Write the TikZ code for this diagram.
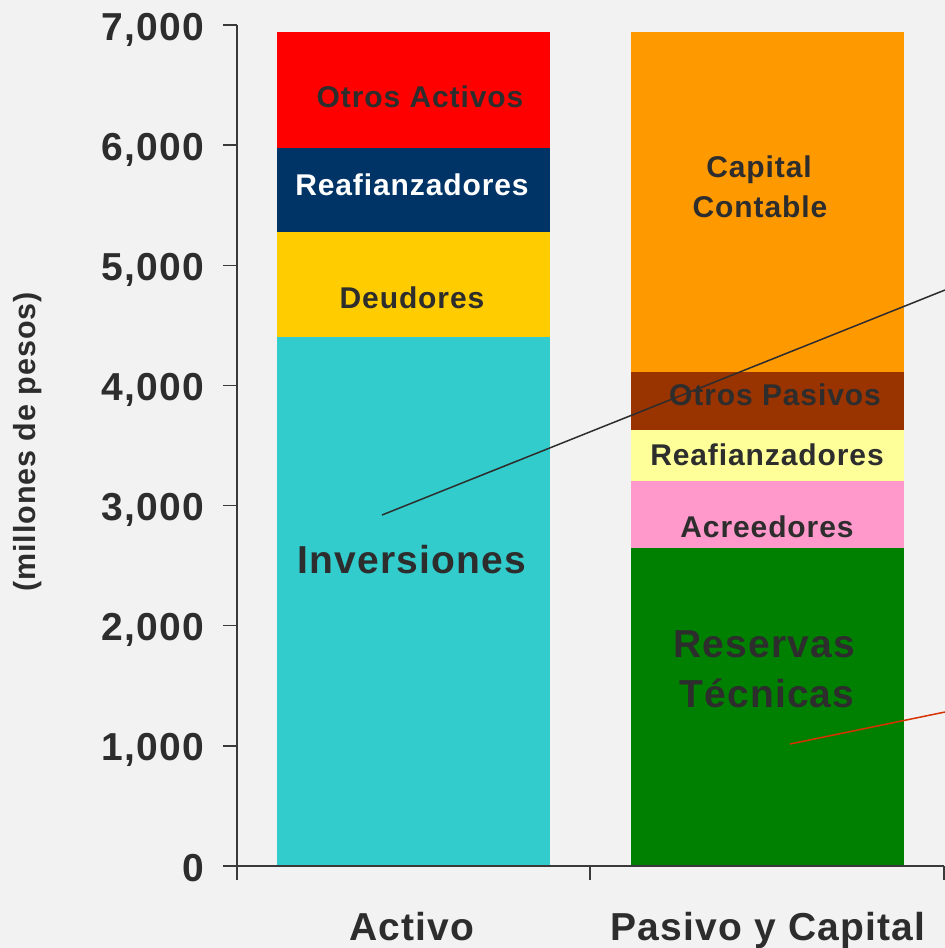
\documentclass[tikz,border=0pt]{standalone}
\usepackage{fontspec}
\setmainfont{Liberation Sans}[LetterSpace=3]
\definecolor{bg}{HTML}{F2F2F2}
\definecolor{txt}{HTML}{2D2D2D}
\definecolor{axis}{HTML}{3A3A3A}
\definecolor{cOA}{HTML}{FF0000}
\definecolor{cRA}{HTML}{003366}
\definecolor{cDe}{HTML}{FFCC00}
\definecolor{cIn}{HTML}{33CCCC}
\definecolor{cCC}{HTML}{FF9900}
\definecolor{cOP}{HTML}{993300}
\definecolor{cRP}{HTML}{FFFF99}
\definecolor{cAc}{HTML}{FF99CC}
\definecolor{cRe}{HTML}{008000}
\definecolor{cRed}{RGB}{215,50,0}
\begin{document}
\begin{tikzpicture}[x=1pt,y=-1pt,
  lbl/.style={font=\fontsize{30}{36}\selectfont\bfseries, text=txt, anchor=base, inner sep=0pt},
  big/.style={font=\fontsize{39}{46}\selectfont\bfseries, text=txt, anchor=base, inner sep=0pt},
  ticklbl/.style={font=\fontsize{39}{46}\selectfont\bfseries, text=txt, anchor=base east, inner sep=0pt},
  axisline/.style={draw=axis, line width=1.5pt},
  seg/.style={draw=none}]
\useasboundingbox[fill=bg] (0,0) rectangle (945,948);
% Activo bar
\fill[cIn] (277,866) rectangle (550,337);
\fill[cDe] (277,337) rectangle (550,232);
\fill[cRA] (277,232) rectangle (550,148);
\fill[cOA] (277,148) rectangle (550,32);
% Pasivo y Capital bar
\fill[cRe] (631,866) rectangle (904,548);
\fill[cAc] (631,548) rectangle (904,481);
\fill[cRP] (631,481) rectangle (904,430);
\fill[cOP] (631,430) rectangle (904,372);
\fill[cCC] (631,372) rectangle (904,32);
% axes
\coordinate (ytop) at (237,25);
\coordinate (ybot) at (237,880);
\coordinate (xl) at (223,866);
\coordinate (xr) at (944,866);
\draw[axisline] (ytop) -- (ybot);
\draw[axisline] (xl) -- (xr);
\foreach \k/\t in {0/0,1/{1,000},2/{2,000},3/{3,000},4/{4,000},5/{5,000},6/{6,000},7/{7,000}}{
  \coordinate (tk\k) at (223,866-\k*120.14);
  \coordinate (tkb\k) at (237,866-\k*120.14);
  \draw[axisline] (tk\k) -- (tkb\k);
  \node[ticklbl] (tl\k) at (204,866-\k*120.14+15) {\t};
}
\foreach \i/\xx in {a/237,b/590,c/944}{
  \coordinate (xt\i) at (\xx,866);
  \coordinate (xtb\i) at (\xx,880);
  \draw[axisline] (xt\i) -- (xtb\i);
}
% axis titles
\node[font=\fontsize{30.5}{36}\selectfont\bfseries, text=txt, rotate=90, inner sep=0pt] (ytitle) at (28,442) {(millones de pesos)};
\node[big] (xa) at (412,940) {Activo};
\node[big] (xp) at (768,940) {Pasivo y Capital};
% segment labels Activo
\node[lbl] (lOA) at (420,107) {Otros Activos};
\node[lbl, text=white] (lRA) at (412,195) {Reafianzadores};
\node[lbl] (lDe) at (412,308) {Deudores};
\node[big] (lIn) at (412,573) {Inversiones};
% segment labels Pasivo
\node[lbl] (lCC1) at (759,177) {Capital};
\node[lbl] (lCC2) at (760,217) {Contable};
\node[lbl] (lOP) at (775,405) {Otros Pasivos};
\node[lbl] (lRP) at (767,465) {Reafianzadores};
\node[lbl] (lAc) at (767,537) {Acreedores};
\node[big] (lRe1) at (764,657) {Reservas};
\node[big] (lRe2) at (767,707) {Técnicas};
% pointer lines
\coordinate (p1a) at (382,515);
\coordinate (p1b) at (945,290);
\coordinate (p2a) at (790,744);
\coordinate (p2b) at (945,712);
\draw[line width=1.5pt, txt] (p1a) -- (p1b);
\draw[line width=1.5pt, cRed] (p2a) -- (p2b);
\end{tikzpicture}
\end{document}
